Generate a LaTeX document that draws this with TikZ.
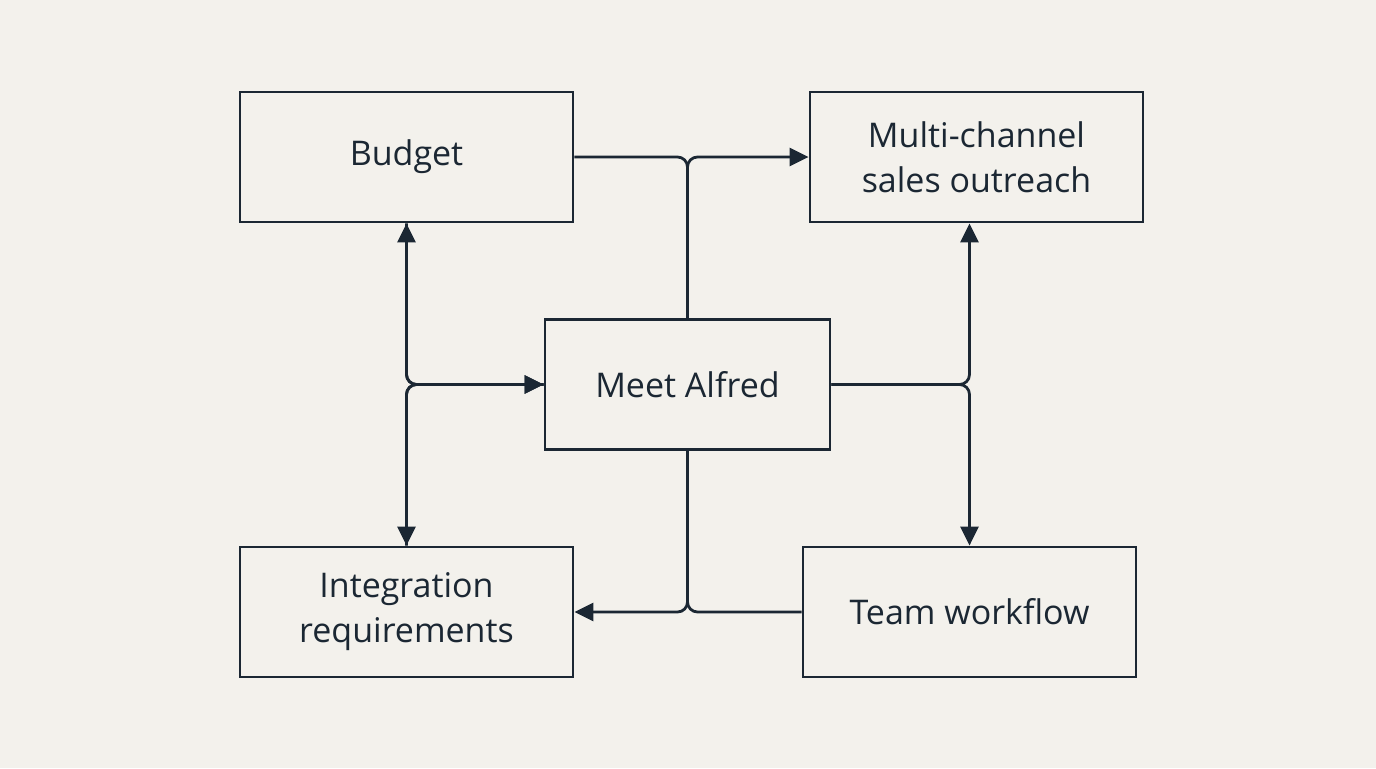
\documentclass[tikz,border=0pt]{standalone}
\usepackage{fontspec}
\setmainfont{Open Sans}
\usetikzlibrary{arrows.meta}
\definecolor{bg}{HTML}{F3F1EC}
\definecolor{ink}{HTML}{1B2733}
\begin{document}
\begin{tikzpicture}[x=0.5pt,y=-0.5pt,
  box/.style={draw=ink,line width=1.4pt,minimum width=166.5pt,minimum height=65pt,align=center,text=ink,font=\fontsize{17}{22.5}\selectfont},
  ln/.style={draw=ink,line width=1.4pt,rounded corners=5pt},
  arr/.style={-{Triangle[length=9.5pt,width=9pt]}}]
\fill[bg] (0,0) rectangle (1376,768);
\useasboundingbox (0,0) rectangle (1376,768);
\node[box] (bud) at (406.5,157) {Budget};
\node[box] (mul) at (976.5,157) {Multi-channel\\sales outreach};
\node[box,minimum width=142.5pt] (alf) at (687.5,384.5) {Meet Alfred};
\node[box] (int) at (406.5,612) {Integration\\requirements};
\node[box] (team) at (969.5,612) {Team workflow};
\coordinate (top) at (alf.north |- bud.east);
\coordinate (bot) at (alf.south |- int.east);
\coordinate (rj) at (team.north |- alf.east);
\path[ln] (bud.east) -- (top) -- (alf.north);
\path[ln,arr] (alf.north) -- (top) -- (mul.west);
\path[ln,arr] (bud.south) |- (alf.west);
\path[ln,arr] (int.north) |- (alf.west);
\path[ln,arr] (alf.west) -| (bud.south);
\path[ln,arr] (alf.west) -| (int.north);
\path[ln,arr] (alf.east) -| (team.north |- mul.south);
\path[ln,arr] (alf.east) -| (team.north);
\path[ln,arr] (alf.south) |- (int.east);
\path[ln] (team.west) -| (alf.south);
\end{tikzpicture}
\end{document}
